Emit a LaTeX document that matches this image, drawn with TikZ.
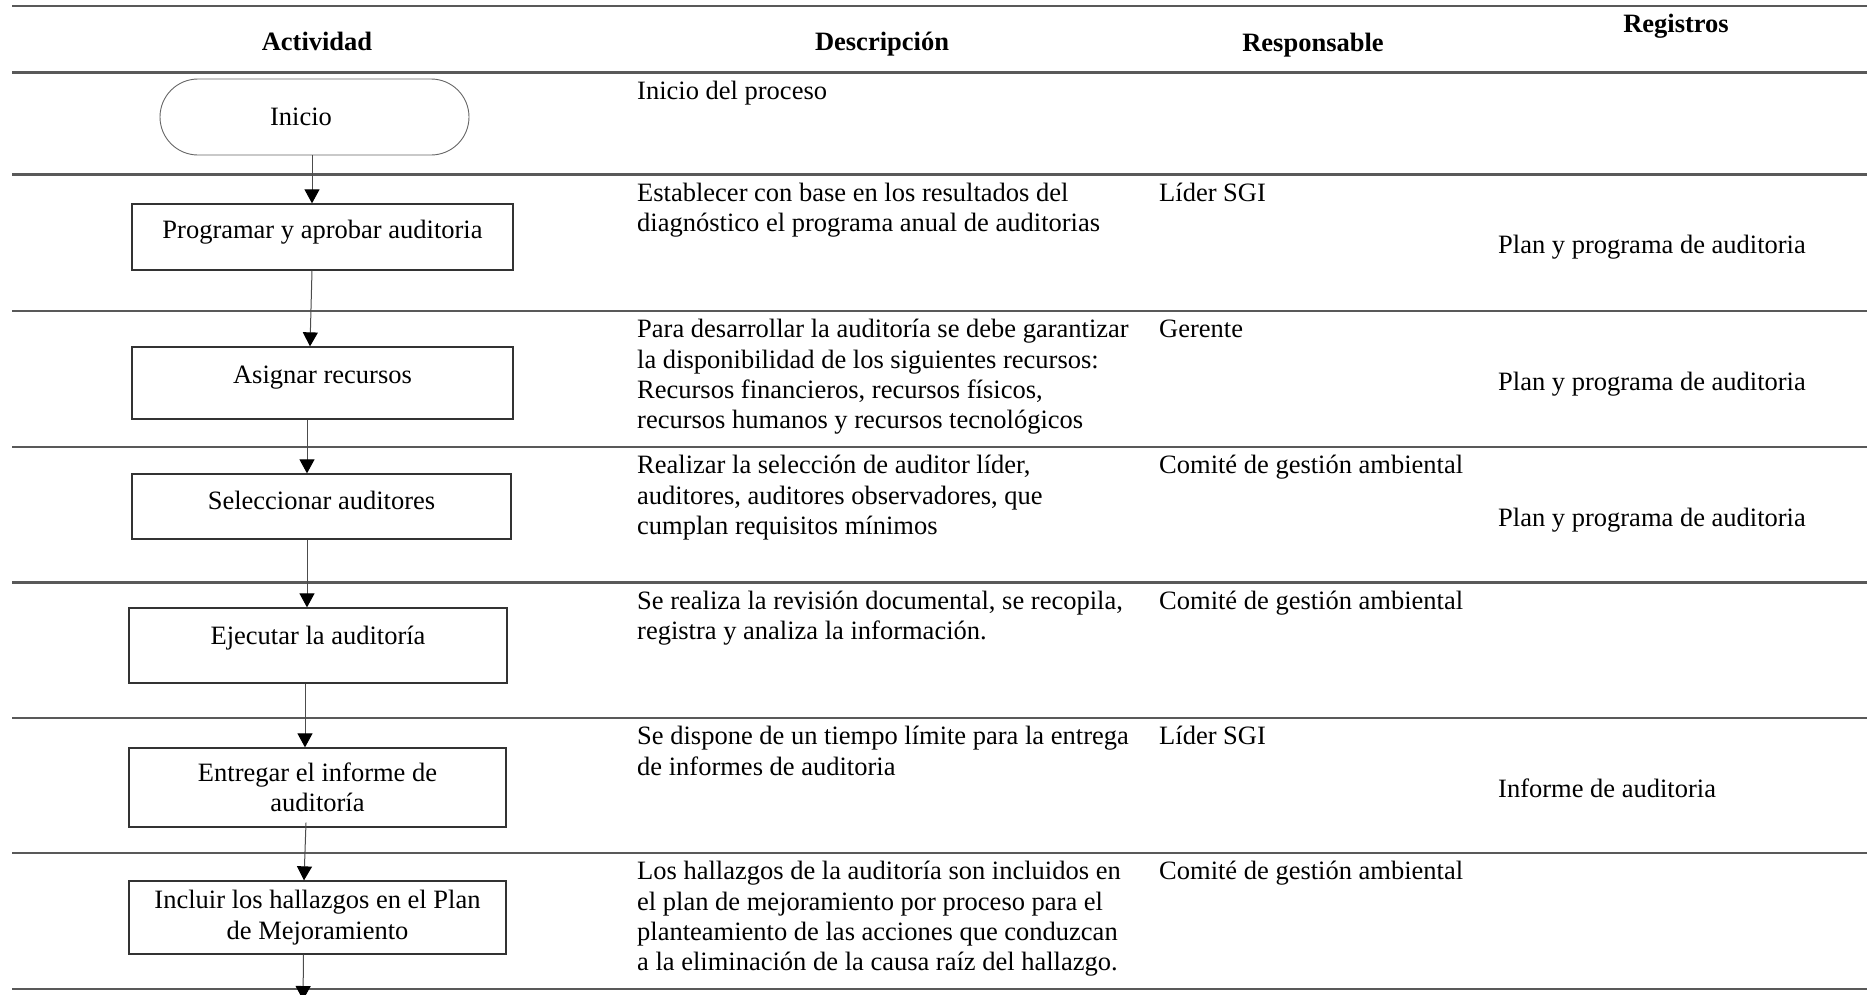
\documentclass[tikz,border=0pt]{standalone}
\usepackage{fontspec}
\setmainfont{Liberation Serif}
\usetikzlibrary{arrows.meta}
\begin{document}
\begin{tikzpicture}[x=1pt,y=-1pt,
  every node/.style={font=\fontsize{26.5}{30.3}\selectfont},
  rowline/.style={draw=black!65, line width=2.2pt},
  actbox/.style={draw=black!80, line width=1.3pt, inner xsep=0pt, inner ysep=0pt},
  term/.style={draw=black!60, line width=0.9pt, rounded corners=38pt, minimum width=309pt, minimum height=76pt, inner sep=0pt},
  arr/.style={draw=black!70, line width=1pt, -{Triangle[length=14pt,width=15pt,black]}},
  desc/.style={anchor=north west, inner sep=0pt, align=left},
  resp/.style={anchor=base west, inner sep=0pt},
  hdr/.style={anchor=base, inner sep=0pt, font=\fontsize{26.5}{31}\selectfont\bfseries},
  reg/.style={anchor=base west, inner sep=0pt}
]
\useasboundingbox (0,0) rectangle (1867,994);

% table rules
\foreach \yy in {6,72.5,174.5,311,447,582.5,718,853,989}
  \draw[rowline] (12,\yy) -- (1867,\yy);

% header
\node[hdr] (hAct) at (317,50) {Actividad};
\node[hdr] (hDes) at (882,50) {Descripción};
\node[hdr] (hRes) at (1313,51) {Responsable};
\node[hdr] (hReg) at (1676,32) {Registros};

% activity column
\node[term] (ini) at (314.5,117) {Inicio\hspace*{27pt}};
\node[actbox, minimum width=381pt, text height=34pt, text depth=32pt] (prog) at (322.5,237) {Programar y aprobar auditoria};
\node[actbox, minimum width=381pt, text height=36pt, text depth=36pt] (asig) at (322.5,383) {Asignar recursos};
\node[actbox, minimum width=379pt, text height=35pt, text depth=30pt] (sel) at (321.5,506.5) {Seleccionar auditores};
\node[actbox, minimum width=378pt, text height=36pt, text depth=39pt] (eje) at (318,645.5) {Ejecutar la auditoría};
\node[actbox, minimum width=377pt, minimum height=79pt, align=center] (ent) at (317.5,787.5) {Entregar el informe de\\auditoría};
\node[actbox, minimum width=377pt, minimum height=73pt, align=center] (inc) at (317.5,917.5) {Incluir los hallazgos en el Plan\\de Mejoramiento};
\coordinate (fin) at (303,1000);

% connectors
\draw[arr] ([xshift=-2.5pt]ini.south) -- ([xshift=-10.5pt]prog.north);
\draw[arr] ([xshift=-10.5pt]prog.south) -- ([xshift=-12.5pt]asig.north);
\draw[arr] ([xshift=-15.5pt]asig.south) -- ([xshift=-14.5pt]sel.north);
\draw[arr] ([xshift=-14.5pt]sel.south) -- ([xshift=-11pt]eje.north);
\draw[arr] ([xshift=-13pt]eje.south) -- ([xshift=-12.5pt]ent.north);
\draw[arr] ([xshift=-11.5pt,yshift=5pt]ent.south) -- ([xshift=-13.5pt]inc.north);
\draw[arr] ([xshift=-14pt]inc.south) -- (fin);

% description column
\node[desc] (d1) at (637,77.8) {\strut Inicio del proceso};
\node[desc] (d2) at (637,179.8) {\strut Establecer con base en los resultados del\\diagnóstico el programa anual de auditorias};
\node[desc] (d3) at (637,316.3) {\strut Para desarrollar la auditoría se debe garantizar\\la disponibilidad de los siguientes recursos:\\Recursos financieros, recursos físicos,\\recursos humanos y recursos tecnológicos};
\node[desc] (d4) at (637,452.3) {\strut Realizar la selección de auditor líder,\\auditores, auditores observadores, que\\cumplan requisitos mínimos};
\node[desc] (d5) at (637,587.8) {\strut Se realiza la revisión documental, se recopila,\\registra y analiza la información.};
\node[desc] (d6) at (637,723.3) {\strut Se dispone de un tiempo límite para la entrega\\de informes de auditoria};
\node[desc] (d7) at (637,858.3) {\strut Los hallazgos de la auditoría son incluidos en\\el plan de mejoramiento por proceso para el\\planteamiento de las acciones que conduzcan\\a la eliminación de la causa raíz del hallazgo.};

% responsable column
\node[resp] (r2) at (1159,201) {Líder SGI};
\node[resp] (r3) at (1159,337.5) {Gerente};
\node[resp] (r4) at (1159,473.5) {Comité de gestión ambiental};
\node[resp] (r5) at (1159,609) {Comité de gestión ambiental};
\node[resp] (r6) at (1159,744.5) {Líder SGI};
\node[resp] (r7) at (1159,879.5) {Comité de gestión ambiental};

% registros column
\node[reg] (g2) at (1498,253.5) {Plan y programa de auditoria};
\node[reg] (g3) at (1498,390) {Plan y programa de auditoria};
\node[reg] (g4) at (1498,526) {Plan y programa de auditoria};
\node[reg] (g6) at (1498,797) {Informe de auditoria};
\end{tikzpicture}
\end{document}
